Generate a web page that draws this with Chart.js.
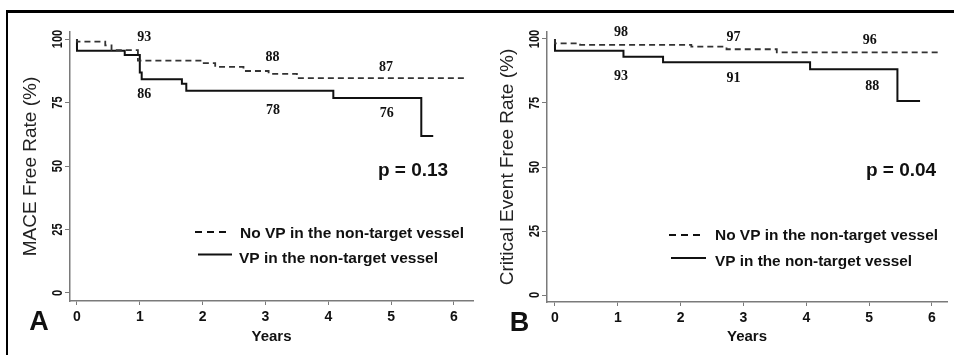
<!DOCTYPE html>
<html>
<head>
<meta charset="utf-8">
<script src="https://cdn.jsdelivr.net/npm/chart.js@4.4.1/dist/chart.umd.min.js"></script>
<style>
  html, body { margin: 0; padding: 0; background: #fff; }
  #wrap { position: relative; width: 954px; height: 355px; overflow: hidden; background: #fff; }
  #wrap canvas { position: absolute; top: 0; }
  #chart-a { left: 0; }
  #chart-b { left: 477px; }
  .frame-top { position: absolute; left: 6px; top: 10px; width: 948px; height: 3px; background: #000; }
  .frame-left { position: absolute; left: 6px; top: 10px; width: 2px; height: 345px; background: #000; }
</style>
</head>
<body>
<div id="wrap">
  <canvas id="chart-a" width="477" height="355"></canvas>
  <canvas id="chart-b" width="477" height="355"></canvas>
  <div class="frame-top"></div>
  <div class="frame-left"></div>
</div>
<script>
// ============================================================
// Kaplan-Meier curves — MACE (A) and critical events (B)
// ============================================================

const xTicks = [0, 1, 2, 3, 4, 5, 6];
const yTicks = [0, 25, 50, 75, 100];
const seriesNames = ['No VP in the non-target vessel', 'VP in the non-target vessel'];

// ─── Panel A: MACE free rate ─────────────────────────────────
const maceNoVpYears = [0, 0, 0.45, 0.55, 0.97, 2.0, 2.2, 2.65, 3.05, 3.5, 6.2];
const maceNoVpRate  = [100, 99, 97.5, 95.6, 91.5, 90.5, 89.0, 87.4, 86.3, 84.6, 84.6];
const maceVpYears   = [0, 0, 0.76, 1.0, 1.03, 1.67, 1.74, 4.08, 5.48, 5.67];
const maceVpRate    = [100, 95.4, 93.7, 86.8, 84.2, 82.4, 79.6, 76.8, 61.8, 61.8];
const maceNumbers   = ['93', '88', '87', '86', '78', '76'];
const maceNumYears  = [1.07, 3.11, 4.92, 1.07, 3.12, 4.93];
const maceNumRates  = [100.6, 92.9, 88.7, 78.3, 72.0, 70.7];

// ─── Panel B: critical event free rate ───────────────────────
const critNoVpYears = [0, 0, 0.4, 2.17, 2.73, 3.53, 6.15];
const critNoVpRate  = [100, 98.3, 97.7, 97.0, 96.0, 94.8, 94.8];
const critVpYears   = [0, 0, 1.09, 1.72, 4.06, 5.45, 5.81];
const critVpRate    = [100, 95.4, 93.1, 90.9, 88.2, 75.8, 75.8];
const critNumbers   = ['98', '97', '96', '93', '91', '88'];
const critNumYears  = [1.05, 2.84, 5.01, 1.05, 2.84, 5.05];
const critNumRates  = [102.5, 100.6, 99.4, 85.5, 84.8, 81.6];

const SANS  = '"Liberation Sans", Arial, sans-serif';
const SERIF = '"Liberation Serif", "Times New Roman", serif';
const AXIS_GREY = '#7a7a7a';

function toPoints(xs, ys) {
  return xs.map((t, i) => ({ x: t, y: ys[i] }));
}

// draws rotated y tick labels, curve numbers, p value, legend, panel letter
const decorPlugin = {
  id: 'decor',
  afterDraw(chart, args, o) {
    const { ctx, chartArea } = chart;
    const x = chart.scales.x, y = chart.scales.y;
    ctx.save();
    ctx.fillStyle = '#111';
    ctx.textAlign = 'center';
    ctx.textBaseline = 'middle';

    // y tick labels, reading bottom to top
    ctx.font = 'bold 13px ' + SANS;
    yTicks.forEach(v => {
      ctx.save();
      ctx.translate(chartArea.left - 12, y.getPixelForValue(v));
      ctx.rotate(-Math.PI / 2);
      ctx.scale(0.85, 1.1);
      ctx.fillText(String(v), 0, 0);
      ctx.restore();
    });

    // survival numbers
    ctx.font = 'bold 14px ' + SERIF;
    o.numbers.forEach((t, i) => {
      ctx.fillText(t, x.getPixelForValue(o.numYears[i]), y.getPixelForValue(o.numRates[i]));
    });

    // p value
    ctx.font = 'bold 19px ' + SANS;
    ctx.fillText(o.pText, o.pAt[0], o.pAt[1]);

    // panel letter
    ctx.font = 'bold 27px ' + SANS;
    ctx.fillText(o.letter, o.letterAt[0], o.letterAt[1]);

    // legend
    ctx.textAlign = 'left';
    ctx.font = 'bold 15.5px ' + SANS;
    o.legend.forEach((row, i) => {
      ctx.beginPath();
      ctx.strokeStyle = '#111';
      ctx.lineWidth = 2;
      ctx.setLineDash(i === 0 ? [7, 5] : []);
      ctx.moveTo(row.x0, row.y);
      ctx.lineTo(row.x1, row.y);
      ctx.stroke();
      ctx.setLineDash([]);
      ctx.fillText(seriesNames[i], row.tx, row.ty, row.tw);
    });
    ctx.restore();
  }
};

function buildPanel(canvasId, cfg) {
  const ctx = document.getElementById(canvasId).getContext('2d');
  return new Chart(ctx, {
    type: 'line',
    data: {
      datasets: [
        {
          label: seriesNames[0],
          data: toPoints(cfg.noVpYears, cfg.noVpRate),
          borderColor: '#333',
          borderWidth: 1.8,
          borderDash: [6, 4],
          stepped: true,
          pointRadius: 0,
          fill: false,
        },
        {
          label: seriesNames[1],
          data: toPoints(cfg.vpYears, cfg.vpRate),
          borderColor: '#111',
          borderWidth: 2,
          stepped: true,
          pointRadius: 0,
          fill: false,
        },
      ],
    },
    options: {
      responsive: false,
      animation: false,
      layout: { padding: { top: 32, right: cfg.padRight, left: 0, bottom: 0 } },
      plugins: {
        legend: { display: false },
        tooltip: { enabled: false },
        decor: cfg.decor,
      },
      scales: {
        x: {
          type: 'linear',
          min: cfg.xMin,
          max: cfg.xMax,
          afterBuildTicks: s => { s.ticks = xTicks.map(v => ({ value: v })); },
          afterFit: s => { s.height = cfg.xAxisHeight; },
          grid: { drawOnChartArea: false, drawTicks: true, tickLength: 4, color: AXIS_GREY, lineWidth: 1 },
          border: { display: true, color: AXIS_GREY, width: 1.5 },
          ticks: { color: '#111', padding: 4, font: { family: SANS, size: 14, weight: 'bold' } },
          title: {
            display: true,
            text: 'Years',
            color: '#111',
            padding: { top: 0, bottom: 9 },
            font: { family: SANS, size: 15, weight: 'bold' },
          },
        },
        y: {
          type: 'linear',
          min: cfg.yMin,
          max: cfg.yMax,
          afterBuildTicks: s => { s.ticks = yTicks.map(v => ({ value: v })); },
          afterFit: s => { s.width = 70; },
          grid: { drawOnChartArea: false, drawTicks: true, tickLength: 5, color: AXIS_GREY, lineWidth: 1 },
          border: { display: true, color: AXIS_GREY, width: 1.5 },
          ticks: { display: false },
          title: {
            display: true,
            text: cfg.yTitle,
            color: '#222',
            padding: { top: 19, bottom: 0 },
            font: { family: SANS, size: 19, weight: 'normal' },
          },
        },
      },
    },
    plugins: [decorPlugin],
  });
}

buildPanel('chart-a', {
  noVpYears: maceNoVpYears, noVpRate: maceNoVpRate,
  vpYears: maceVpYears, vpRate: maceVpRate,
  xMin: -0.111, xMax: 6.303, yMin: -3.15, yMax: 102.76,
  padRight: 4, xAxisHeight: 54,
  yTitle: 'MACE Free Rate (%)',
  decor: {
    numbers: maceNumbers, numYears: maceNumYears, numRates: maceNumRates,
    pText: 'p = 0.13', pAt: [413, 171],
    letter: 'A', letterAt: [39, 323],
    legend: [
      { x0: 195, x1: 230, y: 232, tx: 240, ty: 233.5, tw: 226 },
      { x0: 198, x1: 232, y: 254.5, tx: 239, ty: 258.5, tw: 200 },
    ],
  },
});

buildPanel('chart-b', {
  noVpYears: critNoVpYears, noVpRate: critNoVpRate,
  vpYears: critVpYears, vpRate: critVpRate,
  xMin: -0.127, xMax: 6.239, yMin: -2.73, yMax: 102.73,
  padRight: 7, xAxisHeight: 53,
  yTitle: 'Critical Event Free Rate (%)',
  decor: {
    numbers: critNumbers, numYears: critNumYears, numRates: critNumRates,
    pText: 'p = 0.04', pAt: [424, 171],
    letter: 'B', letterAt: [42.5, 324],
    legend: [
      { x0: 192, x1: 227, y: 235, tx: 238, ty: 236, tw: 223 },
      { x0: 194, x1: 229, y: 258, tx: 238, ty: 261.5, tw: 197 },
    ],
  },
});
</script>
</body>
</html>
